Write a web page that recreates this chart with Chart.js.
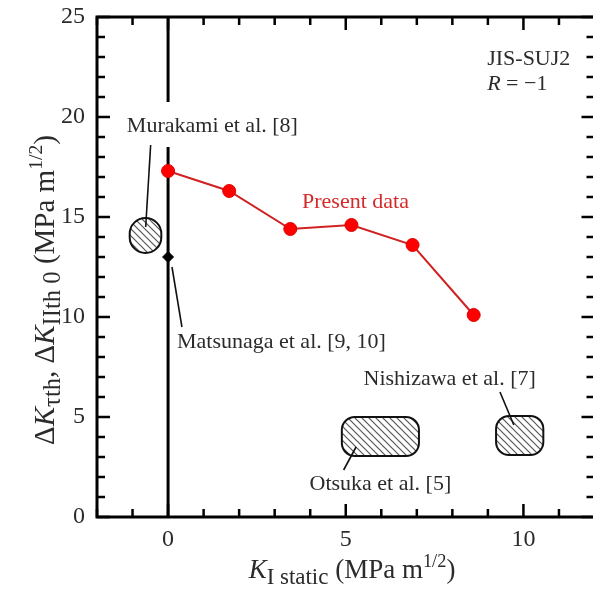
<!DOCTYPE html>
<html>
<head>
<meta charset="utf-8">
<script src="https://cdn.jsdelivr.net/npm/chart.js@4/dist/chart.umd.min.js"></script>
<style>
  html, body { margin: 0; padding: 0; background: #fff; overflow: hidden; }
  canvas { display: block; }
</style>
</head>
<body>
<canvas id="grafica" width="602" height="599"></canvas>
<script>
// ---------------- DATOS ----------------
const kStatic = [0, 1.72, 3.44, 5.16, 6.88, 8.6];        // K_I static (MPa m^1/2)
const dKth = [17.3, 16.3, 14.4, 14.6, 13.6, 10.1];       // Present data
const matsunagaX = [0];
const matsunagaY = [13];
const xTicks = [0, 5, 10];
const yTicks = [0, 5, 10, 15, 20, 25];
const xMinor = [-2, -1, 0, 1, 2, 3, 4, 5, 6, 7, 8, 9, 10, 11, 12];
const yMinor = [0, 1, 2, 3, 4, 5, 6, 7, 8, 9, 10, 11, 12, 13, 14, 15, 16, 17, 18, 19, 20, 21, 22, 23, 24, 25];

// zonas rayadas (datos de otros autores)
const zonaNombres = ['Murakami', 'Otsuka', 'Nishizawa'];
const zonaX = [[-1.08, -0.19], [4.89, 7.06], [9.23, 10.56]];
const zonaY = [[13.2, 14.95], [3.05, 5.0], [3.1, 5.05]];
const zonaRadio = [17, 13, 13];   // redondeo de esquinas en px

// líneas guía hacia cada etiqueta
const guiaMurakami = [{ x: -0.49, y: 18.6 }, { x: -0.63, y: 14.5 }];
const guiaMatsunaga = [{ x: 0.11, y: 12.5 }, { x: 0.39, y: 9.5 }];
const guiaOtsuka = [{ x: 5.29, y: 3.5 }, { x: 4.94, y: 2.35 }];
const guiaNishizawa = [{ x: 9.34, y: 6.25 }, { x: 9.73, y: 4.6 }];

// línea vertical en K = 0 (interrumpida por el texto)
const ejeCeroArriba = [{ x: 0, y: 25 }, { x: 0, y: 20.75 }];
const ejeCeroAbajo = [{ x: 0, y: 18.5 }, { x: 0, y: 0 }];

const notas = [
    { text: 'Murakami et al. [8]', x: -1.16, y: 19.27 },
    { text: 'Matsunaga et al. [9, 10]', x: 0.25, y: 8.45 },
    { text: 'Otsuka et al. [5]', x: 3.98, y: 1.35 },
    { text: 'Nishizawa et al. [7]', x: 5.5, y: 6.6 },
    { text: 'Present data', x: 3.77, y: 15.45, color: '#d42a2a' },
    { text: 'JIS-SUJ2', x: 8.98, y: 22.6 }
];

const SERIF = '"Liberation Serif", "DejaVu Serif", serif';
const GRIS = '#2b2b2b';

// ---------------- UTILIDADES ----------------
function patronRayado(ctx) {
    const c = document.createElement('canvas');
    c.width = 7; c.height = 7;
    const p = c.getContext('2d');
    p.strokeStyle = '#555';
    p.lineWidth = 1.2;
    p.beginPath();
    p.moveTo(-1, -1); p.lineTo(8, 8);
    p.moveTo(-1, 6); p.lineTo(1, 8);
    p.moveTo(6, -1); p.lineTo(8, 1);
    p.stroke();
    return ctx.createPattern(c, 'repeat');
}

function rectRedondo(ctx, x0, y0, x1, y1, r) {
    const w = x1 - x0, h = y1 - y0;
    r = Math.min(r, w / 2, h / 2);
    ctx.beginPath();
    ctx.moveTo(x0 + r, y0);
    ctx.arcTo(x1, y0, x1, y1, r);
    ctx.arcTo(x1, y1, x0, y1, r);
    ctx.arcTo(x0, y1, x0, y0, r);
    ctx.arcTo(x0, y0, x1, y0, r);
    ctx.closePath();
}

// texto con sub/superíndices: partes {t, it, sub, sup}
function tam(p, size) {
    if (p.sub) return size * 0.85;
    if (p.sup) return size * 0.68;
    return size;
}
function medirRico(ctx, partes, size) {
    let w = 0;
    for (const p of partes) {
        ctx.font = (p.it ? 'italic ' : '') + tam(p, size) + 'px ' + SERIF;
        w += ctx.measureText(p.t).width;
    }
    return w;
}
function dibujarRico(ctx, partes, x, y, size) {
    for (const p of partes) {
        ctx.font = (p.it ? 'italic ' : '') + tam(p, size) + 'px ' + SERIF;
        let dy = 0;
        if (p.sub) dy = size * 0.22;
        if (p.sup) dy = -size * 0.42;
        ctx.fillText(p.t, x, y + dy);
        x += ctx.measureText(p.t).width;
    }
}

// ---------------- PLUGIN DE DECORACIÓN ----------------
const decoracion = {
    id: 'decoracion',
    beforeDatasetsDraw(chart) {
        const { ctx, scales: { x, y } } = chart;
        ctx.save();
        const patron = patronRayado(ctx);
        for (let i = 0; i < zonaNombres.length; i++) {
            const x0 = x.getPixelForValue(zonaX[i][0]);
            const x1 = x.getPixelForValue(zonaX[i][1]);
            const y0 = y.getPixelForValue(zonaY[i][1]);
            const y1 = y.getPixelForValue(zonaY[i][0]);
            rectRedondo(ctx, x0, y0, x1, y1, zonaRadio[i]);
            ctx.fillStyle = '#fff';
            ctx.fill();
            ctx.fillStyle = patron;
            ctx.fill();
            ctx.lineWidth = 2;
            ctx.strokeStyle = '#111';
            ctx.stroke();
        }
        ctx.restore();
    },
    afterDraw(chart) {
        const { ctx, chartArea: a, scales: { x, y } } = chart;
        ctx.save();

        // marco grueso
        ctx.strokeStyle = '#000';
        ctx.lineWidth = 3;
        ctx.strokeRect(a.left, a.top, a.right - a.left, a.bottom - a.top);

        // marcas hacia dentro
        ctx.lineWidth = 2.5;
        ctx.beginPath();
        for (const v of xMinor) {
            const px = x.getPixelForValue(v);
            const len = xTicks.includes(v) ? 13 : 8;
            ctx.moveTo(px, a.bottom); ctx.lineTo(px, a.bottom - len);
            ctx.moveTo(px, a.top); ctx.lineTo(px, a.top + len);
        }
        for (const v of yMinor) {
            const py = y.getPixelForValue(v);
            const len = yTicks.includes(v) ? 13 : 8;
            ctx.moveTo(a.left, py); ctx.lineTo(a.left + len, py);
            ctx.moveTo(a.right, py); ctx.lineTo(a.right - len, py);
        }
        ctx.stroke();

        // notas
        ctx.textBaseline = 'alphabetic';
        ctx.textAlign = 'left';
        ctx.font = '22px ' + SERIF;
        for (const n of notas) {
            ctx.fillStyle = n.color || GRIS;
            ctx.fillText(n.text, x.getPixelForValue(n.x), y.getPixelForValue(n.y));
        }
        ctx.fillStyle = GRIS;
        dibujarRico(ctx, [{ t: 'R', it: true }, { t: ' = \u22121' }],
            x.getPixelForValue(8.98), y.getPixelForValue(21.35), 22);

        // título eje x
        const tituloX = [{ t: 'K', it: true }, { t: 'I static', sub: true }, { t: ' (MPa m' }, { t: '1/2', sup: true }, { t: ')' }];
        const wx = medirRico(ctx, tituloX, 27);
        dibujarRico(ctx, tituloX, 352 - wx / 2, 578, 27);

        // título eje y
        const tituloY = [{ t: '\u0394' }, { t: 'K', it: true }, { t: '\u03c4th', sub: true }, { t: ', \u0394' },
            { t: 'K', it: true }, { t: 'IIth 0', sub: true }, { t: ' (MPa m' }, { t: '1/2', sup: true }, { t: ')' }];
        const wy = medirRico(ctx, tituloY, 29);
        ctx.translate(54, 290);
        ctx.rotate(-Math.PI / 2);
        dibujarRico(ctx, tituloY, -wy / 2, 0, 29);

        ctx.restore();
    }
};

// ---------------- GRÁFICA ----------------
const lineaNegra = (datos) => ({
    data: datos, showLine: true, borderColor: '#111', borderWidth: 1.6,
    pointRadius: 0, order: 3
});

new Chart(document.getElementById('grafica'), {
    type: 'scatter',
    data: {
        datasets: [
            {
                label: 'Present data',
                data: kStatic.map((k, i) => ({ x: k, y: dKth[i] })),
                showLine: true,
                borderColor: '#d02222',
                borderWidth: 2,
                pointRadius: 6.5,
                pointBackgroundColor: '#ff0000',
                pointBorderColor: '#e00000',
                pointBorderWidth: 1,
                order: 0
            },
            {
                label: 'Matsunaga',
                data: matsunagaX.map((k, i) => ({ x: k, y: matsunagaY[i] })),
                pointStyle: 'rectRot',
                pointRadius: 5.5,
                pointBackgroundColor: '#000',
                pointBorderColor: '#000',
                order: 1
            },
            {
                data: ejeCeroArriba, showLine: true, borderColor: '#000',
                borderWidth: 3, pointRadius: 0, order: 2
            },
            {
                data: ejeCeroAbajo, showLine: true, borderColor: '#000',
                borderWidth: 3, pointRadius: 0, order: 2
            },
            lineaNegra(guiaMurakami),
            lineaNegra(guiaMatsunaga),
            lineaNegra(guiaOtsuka),
            lineaNegra(guiaNishizawa)
        ]
    },
    options: {
        responsive: false,
        animation: false,
        layout: { padding: { top: 17, right: 4, left: 0, bottom: 0 } },
        plugins: { legend: { display: false }, tooltip: { enabled: false } },
        scales: {
            x: {
                type: 'linear', min: -2, max: 12,
                afterBuildTicks: s => { s.ticks = xTicks.map(v => ({ value: v })); },
                afterFit: s => { s.height = 82; s.paddingLeft = 0; s.paddingRight = 0; },
                grid: { display: false, drawTicks: false },
                border: { display: false },
                ticks: { padding: 8, color: GRIS, font: { family: SERIF, size: 24 } }
            },
            y: {
                type: 'linear', min: 0, max: 25,
                afterBuildTicks: s => { s.ticks = yTicks.map(v => ({ value: v })); },
                afterFit: s => { s.width = 97; s.paddingTop = 0; s.paddingBottom = 0; },
                grid: { display: false, drawTicks: false },
                border: { display: false },
                ticks: { padding: 12, color: GRIS, font: { family: SERIF, size: 24 } }
            }
        }
    },
    plugins: [decoracion]
});
</script>
</body>
</html>
